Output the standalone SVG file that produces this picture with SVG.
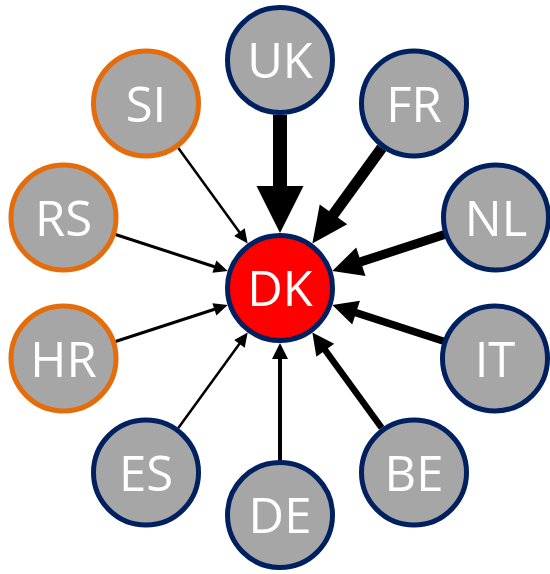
<svg xmlns="http://www.w3.org/2000/svg" width="550" height="574" viewBox="0 0 550 574">
<style>
.n circle{fill:#A6A6A6;stroke-width:5}
.b circle{stroke:#002060}
.o circle{stroke:#E46C0A}
.n text{fill:#fff;font-family:"Open Sans","Liberation Sans",sans-serif;font-size:49px;text-anchor:middle}
.e line{stroke:#000;stroke-linecap:butt}
.e polygon{fill:#000}
</style>
<rect width="550" height="574" fill="#fff"/>
<g id="connectors" class="e">
<g id="e-UK" transform="rotate(0 280 288)"><line x1="280" y1="115" x2="280" y2="188" stroke-width="14"/><polygon points="280,233 256.5,186 303.5,186"/></g>
<g id="e-FR" transform="rotate(36 280 288)"><line x1="280" y1="115" x2="280" y2="199" stroke-width="11"/><polygon points="280,233 263,197 297,197"/></g>
<g id="e-NL" transform="rotate(72 280 288)"><line x1="280" y1="115" x2="280" y2="205" stroke-width="9"/><polygon points="280,233 265,203 295,203"/></g>
<g id="e-IT" transform="rotate(108 280 288)"><line x1="280" y1="115" x2="280" y2="210" stroke-width="7.5"/><polygon points="280,233 267.5,208 292.5,208"/></g>
<g id="e-BE" transform="rotate(144 280 288)"><line x1="280" y1="115" x2="280" y2="213" stroke-width="6.5"/><polygon points="280,233 269,211 291,211"/></g>
<g id="e-DE" transform="rotate(180 280 288)"><line x1="280" y1="115" x2="280" y2="218" stroke-width="4"/><polygon points="280,233 272,217 288,217"/></g>
<g id="e-ES" transform="rotate(216 280 288)"><line x1="280" y1="115" x2="280" y2="220" stroke-width="2.5"/><polygon points="280,233 273.5,219 286.5,219"/></g>
<g id="e-HR" transform="rotate(252 280 288)"><line x1="280" y1="115" x2="280" y2="220" stroke-width="3"/><polygon points="280,233 273.5,219 286.5,219"/></g>
<g id="e-RS" transform="rotate(288 280 288)"><line x1="280" y1="115" x2="280" y2="220" stroke-width="3"/><polygon points="280,233 273.5,219 286.5,219"/></g>
<g id="e-SI" transform="rotate(324 280 288)"><line x1="280" y1="115" x2="280" y2="220" stroke-width="2.5"/><polygon points="280,233 273.5,219 286.5,219"/></g>
</g>
<g id="DK" class="n b"><circle cx="280" cy="288" r="52.5" style="fill:#FF0000"/><text x="280" y="306">DK</text></g>
<g id="UK" class="n b"><circle cx="280" cy="60" r="52.5"/><text x="280" y="78">UK</text></g>
<g id="FR" class="n b"><circle cx="414" cy="103.5" r="52.5"/><text x="414" y="121.5">FR</text></g>
<g id="NL" class="n b"><circle cx="496" cy="217.5" r="52.5"/><text x="496" y="235.5">NL</text></g>
<g id="IT" class="n b"><circle cx="495" cy="358.5" r="52.5"/><text x="495" y="376.5">IT</text></g>
<g id="BE" class="n b"><circle cx="414" cy="472.5" r="52.5"/><text x="414" y="490.5">BE</text></g>
<g id="DE" class="n b"><circle cx="280" cy="515" r="52.5"/><text x="280" y="533">DE</text></g>
<g id="ES" class="n b"><circle cx="146" cy="472.5" r="52.5"/><text x="146" y="490.5">ES</text></g>
<g id="HR" class="n o"><circle cx="63.5" cy="358.5" r="52.5"/><text x="63.5" y="376.5">HR</text></g>
<g id="RS" class="n o"><circle cx="63.5" cy="217.5" r="52.5"/><text x="63.5" y="235.5">RS</text></g>
<g id="SI" class="n o"><circle cx="146" cy="103.5" r="52.5"/><text x="146" y="121.5">SI</text></g>
</svg>
